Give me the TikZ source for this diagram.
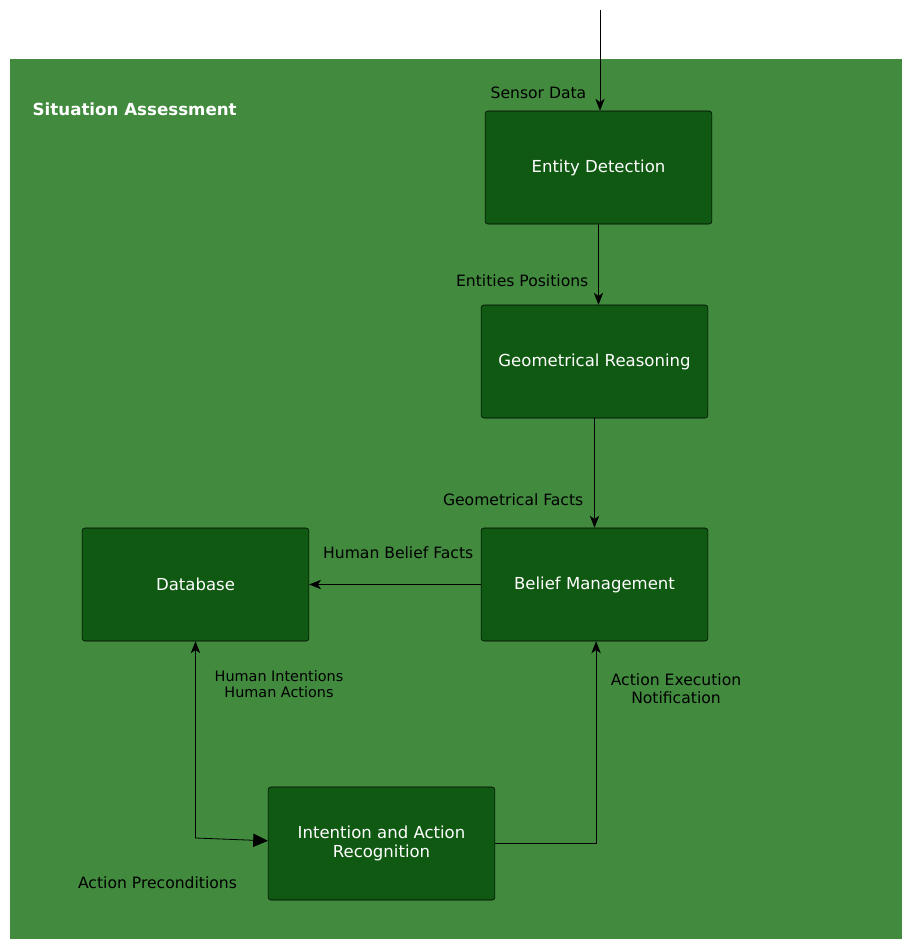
\documentclass[tikz,border=0pt]{standalone}
\usepackage{fontspec}
\setmainfont{DejaVu Sans}
\usetikzlibrary{arrows.meta}
\definecolor{areagreen}{RGB}{65,138,62}
\definecolor{boxgreen}{RGB}{16,89,18}
\begin{document}
\begin{tikzpicture}[x=0.75pt, y=-0.75pt,
    block/.style={draw=black, fill=boxgreen, rounded corners=2pt, minimum width=170pt, minimum height=84.75pt, text=white, align=center, font=\fontsize{12.4}{14.5}\selectfont},
    lbl/.style={font=\fontsize{11.7}{13.5}\selectfont, align=center},
    flow/.style={-{Stealth[length=9pt, width=7pt, inset=2.5pt]}, semithick}]
        \useasboundingbox (0, 0) rectangle (902, 939);
        \draw[fill=areagreen, thin] (10, 940) -- (10, 59) -- (903, 59);
        \fill[areagreen] (10.4, 59.4) rectangle (903, 940);
        \node[anchor=west, text=white, font=\bfseries\fontsize{12.5}{14}\selectfont] (title) at (28, 109) {Situation Assessment};

        \node[block] (ent) at (598.5, 167.5) {Entity Detection};
        \node[block] (geo) at (594.5, 361.5) {Geometrical Reasoning};
        \node[block] (belief) at (594.5, 584.5) {Belief Management};
        \node[block] (db) at (195.5, 584.5) {Database};
        \node[block] (intent) at (381.5, 843.5) {Intention and Action\\Recognition};

        \coordinate (sensor) at (600, 10);
        \draw[flow] (sensor) -- (ent.north -| sensor);
        \node[lbl, anchor=east] (sensorlbl) at (591, 93) {Sensor Data};

        \draw[flow] (ent.south) -- (geo.north -| ent.south);
        \node[lbl, anchor=east] (entlbl) at (593, 281) {Entities Positions};

        \draw[flow] (geo.south) -- (belief.north);
        \node[lbl, anchor=east] (geolbl) at (588, 500) {Geometrical Facts};

        \draw[flow] (belief.west) -- (db.east);
        \node[lbl, anchor=east] (hbflbl) at (478, 553) {Human Belief Facts};

        \draw[flow] (intent.east) -- ++(101, 0) coordinate (c1) -- (c1 |- belief.south);
        \node[lbl] (aenlbl) at (676, 689) {Action Execution\\Notification};

        \coordinate (c2) at (195.5, 838);
        \draw[{Stealth[length=9pt, width=7pt, inset=2.5pt]}-{Triangle[length=11pt, width=10pt]}, semithick] (db.south) -- (c2) -- ([yshift=2pt] intent.west);
        \node[lbl, font=\fontsize{10.8}{12}\selectfont] (hilbl) at (279, 684) {Human Intentions\\Human Actions};
        \node[lbl] (aplbl) at (157.5, 883) {Action Preconditions};
    \end{tikzpicture}
\end{document}
